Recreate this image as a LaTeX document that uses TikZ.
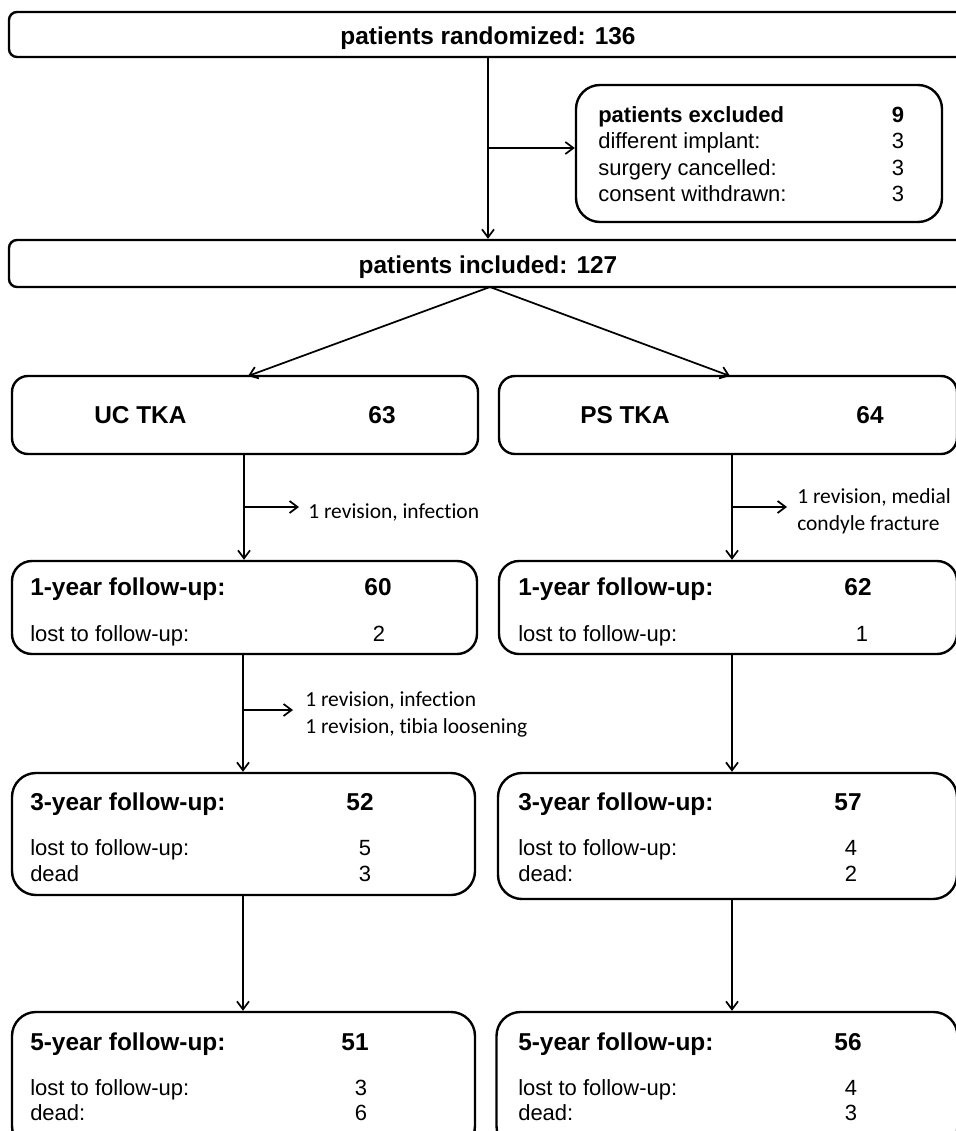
\documentclass[tikz,border=0pt]{standalone}
\usepackage{fontspec}
\setmainfont{Liberation Sans}
\newfontfamily\sidefont[Ligatures=NoCommon]{Carlito}
\usetikzlibrary{arrows.meta,calc}
\begin{document}
\begin{tikzpicture}[x=0.75pt,y=-0.75pt,
  box/.style={draw,line width=1.8pt,inner sep=0pt,rectangle},
  arr/.style={line width=1.3pt,-{Straight Barb[length=6pt,width=9pt,line width=1.3pt]}},
  head/.style={font=\fontsize{18.3}{22}\selectfont\bfseries,inner sep=0pt,yshift=-3pt},
  txt/.style={font=\fontsize{16.5}{20}\selectfont,inner sep=0pt,yshift=-3pt},
  txtb/.style={font=\fontsize{16.5}{20}\selectfont\bfseries,inner sep=0pt,yshift=-3pt},
  side/.style={font=\sidefont\fontsize{16.1}{19.8}\selectfont,inner sep=0pt,align=left,yshift=-2.5pt}]

\useasboundingbox (0,0) rectangle (956,1131);
\clip (0,0) rectangle (956,1131);

% boxes
\node[box,rounded corners=6pt,minimum width=750.75pt,minimum height=33.75pt] (top) at (509.5,34.5) {};
\node[box,rounded corners=18pt,minimum width=274.5pt,minimum height=102.75pt] (excl) at (759,153.5) {};
\node[box,rounded corners=6pt,minimum width=750.75pt,minimum height=35.25pt] (incl) at (509.5,263.5) {};
\node[box,rounded corners=12pt,minimum width=349.5pt,minimum height=58.5pt] (uc) at (245,415) {};
\node[box,rounded corners=12pt,minimum width=343.5pt,minimum height=58.5pt] (ps) at (728,415) {};
\node[box,rounded corners=15pt,minimum width=348.75pt,minimum height=69.75pt] (uc1) at (244.5,607.5) {};
\node[box,rounded corners=15pt,minimum width=343.5pt,minimum height=69.75pt] (ps1) at (728,607.5) {};
\node[box,rounded corners=18pt,minimum width=347.25pt,minimum height=91.5pt] (uc3) at (243.5,834) {};
\node[box,rounded corners=18pt,minimum width=344.25pt,minimum height=94.5pt] (ps3) at (727.5,836) {};
\node[box,rounded corners=18pt,minimum width=347.25pt,minimum height=103.5pt] (uc5) at (243.5,1081) {};
\node[box,rounded corners=18pt,minimum width=345.75pt,minimum height=103.5pt] (ps5) at (727,1081) {};

% helper coordinates
\coordinate (trunk) at (488,0);
\coordinate (pst) at (732,0);
\coordinate (b0) at (488,148);
\coordinate (b1) at (244,507);
\coordinate (b1e) at (299,507);
\coordinate (b2) at (732,507);
\coordinate (b2e) at (787,507);
\coordinate (b3) at (243,710);
\coordinate (b3e) at (293,710);
\coordinate (split) at (490,287);
\coordinate (ucin) at (248,376);
\coordinate (psin) at (730,376);

% connectors
\draw[arr] (top.south -| trunk) -- (incl.north -| trunk);
\draw[arr] (b0) -- (b0 -| excl.west);
\draw[arr] (split) -- (ucin);
\draw[arr] (split) -- (psin);
\draw[arr] (uc.south -| b1) -- (uc1.north -| b1);
\draw[arr] (b1) -- (b1e);
\draw[arr] (ps.south -| pst) -- (ps1.north -| pst);
\draw[arr] (b2) -- (b2e);
\draw[arr] (uc1.south -| b3) -- (uc3.north -| b3);
\draw[arr] (b3) -- (b3e);
\draw[arr] (ps1.south -| pst) -- (ps3.north -| pst);
\draw[arr] (uc3.south -| b3) -- (uc5.north -| b3);
\draw[arr] (ps3.south -| pst) -- (ps5.north -| pst);

% side labels
\node[side,anchor=mid west] (s1) at (308,512) {1 revision, infection};
\node[side,anchor=west] (s2) at (797,508) {1 revision, medial\\condyle fracture};
\node[side,anchor=west] (s3) at (305,711) {1 revision, infection\\1 revision, tibia loosening};

% top texts
\node[head,anchor=mid] (t1) at (488,37) {patients randomized: 136};
\node[head,anchor=mid] (t2) at (488,266) {patients included: 127};

% excluded
\node[txtb,anchor=mid west] (e1) at (598,115) {patients excluded};
\node[txtb,anchor=mid] (e1n) at (898,115) {9};
\node[txt,anchor=mid west] (e2) at (598,141) {different implant:};
\node[txt,anchor=mid] (e2n) at (898,141) {3};
\node[txt,anchor=mid west] (e3) at (598,168) {surgery cancelled:};
\node[txt,anchor=mid] (e3n) at (898,168) {3};
\node[txt,anchor=mid west] (e4) at (598,194) {consent withdrawn:};
\node[txt,anchor=mid] (e4n) at (898,194) {3};

% arms
\node[head,anchor=mid west] (uct) at (94,416) {UC TKA};
\node[head,anchor=mid] (ucn) at (382,416) {63};
\node[head,anchor=mid west] (pst1) at (580,416) {PS TKA};
\node[head,anchor=mid] (psn) at (870,416) {64};

% 1-year
\node[head,anchor=mid west] (a1) at (30,588) {1-year follow-up:};
\node[head,anchor=mid] (a1n) at (378,588) {60};
\node[txt,anchor=mid west] (a2) at (30,634) {lost to follow-up:};
\node[txt,anchor=mid] (a2n) at (379,634) {2};
\node[head,anchor=mid west] (p1) at (518,588) {1-year follow-up:};
\node[head,anchor=mid] (p1n) at (858,588) {62};
\node[txt,anchor=mid west] (p2) at (518,634) {lost to follow-up:};
\node[txt,anchor=mid] (p2n) at (862,634) {1};

% 3-year
\node[head,anchor=mid west] (a3) at (30,803) {3-year follow-up:};
\node[head,anchor=mid] (a3n) at (360,803) {52};
\node[txt,anchor=mid west] (a4) at (30,848) {lost to follow-up:};
\node[txt,anchor=mid] (a4n) at (365,848) {5};
\node[txt,anchor=mid west] (a5) at (30,874) {dead};
\node[txt,anchor=mid] (a5n) at (365,874) {3};
\node[head,anchor=mid west] (p3) at (518,803) {3-year follow-up:};
\node[head,anchor=mid] (p3n) at (848,803) {57};
\node[txt,anchor=mid west] (p4) at (518,848) {lost to follow-up:};
\node[txt,anchor=mid] (p4n) at (851,848) {4};
\node[txt,anchor=mid west] (p5) at (518,874) {dead:};
\node[txt,anchor=mid] (p5n) at (851,874) {2};

% 5-year
\node[head,anchor=mid west] (a6) at (30,1043) {5-year follow-up:};
\node[head,anchor=mid] (a6n) at (355,1043) {51};
\node[txt,anchor=mid west] (a7) at (30,1088) {lost to follow-up:};
\node[txt,anchor=mid] (a7n) at (361,1088) {3};
\node[txt,anchor=mid west] (a8) at (30,1113) {dead:};
\node[txt,anchor=mid] (a8n) at (361,1113) {6};
\node[head,anchor=mid west] (p6) at (518,1043) {5-year follow-up:};
\node[head,anchor=mid] (p6n) at (848,1043) {56};
\node[txt,anchor=mid west] (p7) at (518,1088) {lost to follow-up:};
\node[txt,anchor=mid] (p7n) at (851,1088) {4};
\node[txt,anchor=mid west] (p8) at (518,1113) {dead:};
\node[txt,anchor=mid] (p8n) at (851,1113) {3};
\end{tikzpicture}
\end{document}
